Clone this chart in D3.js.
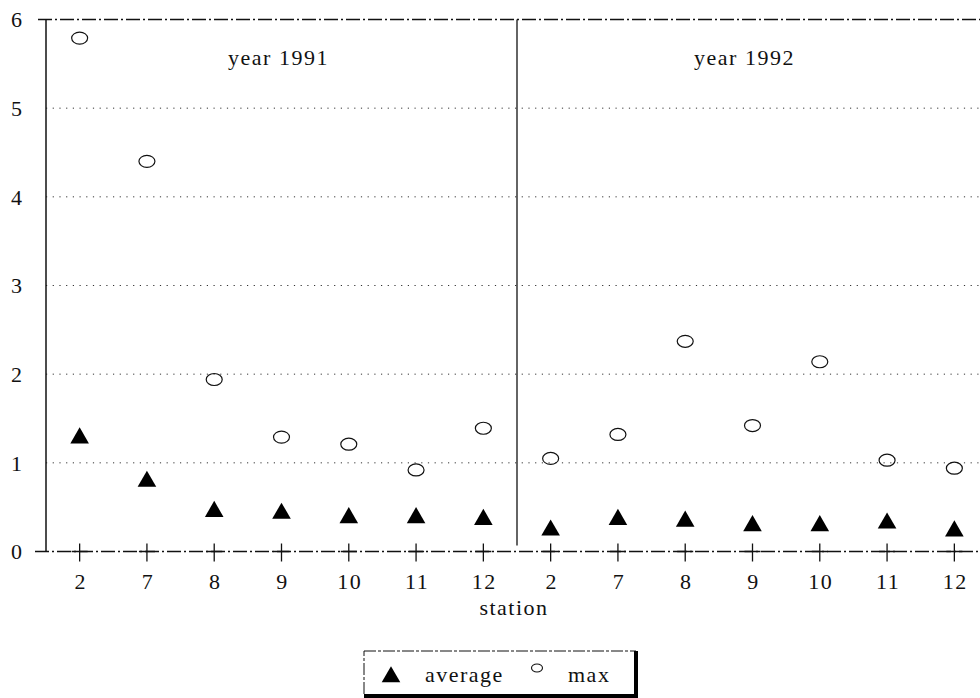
<!DOCTYPE html>
<html>
<head>
<meta charset="utf-8">
<script src="https://cdn.jsdelivr.net/npm/d3@7"></script>
<style>
  body { margin: 0; background: #fff; }
  svg { display: block; font-family: "Liberation Serif", "DejaVu Serif", serif; }
</style>
</head>
<body>
<div id="chart"></div>
<script>
const stations = ['2', '7', '8', '9', '10', '11', '12'];
const years = ['1991', '1992'];
const avg1991 = [1.28, 0.79, 0.45, 0.43, 0.38, 0.38, 0.36];
const max1991 = [5.79, 4.40, 1.94, 1.29, 1.21, 0.92, 1.39];
const avg1992 = [0.24, 0.36, 0.34, 0.29, 0.29, 0.32, 0.23];
const max1992 = [1.05, 1.32, 2.37, 1.42, 2.14, 1.03, 0.94];
const yTicks = [0, 1, 2, 3, 4, 5, 6];

const avgByYear = { 1991: avg1991, 1992: avg1992 };
const maxByYear = { 1991: max1991, 1992: max1992 };

const width = 980;
const height = 698;
const plotLeft = 46;
const panelW = 471;
const plotTop = 19.5;
const plotBottom = 551.5;
const fontSize = 22;
const spacing = '1.5px';

const svg = d3.select('#chart').append('svg')
    .attr('width', width)
    .attr('height', height);

const y = d3.scaleLinear().domain([0, 6]).range([plotBottom, plotTop]);

// dotted grid lines
svg.append('g')
    .selectAll('line')
    .data(yTicks.filter(d => d > 0 && d < 6))
    .join('line')
    .attr('x1', plotLeft)
    .attr('x2', width)
    .attr('y1', d => y(d))
    .attr('y2', d => y(d))
    .attr('stroke', '#333')
    .attr('stroke-width', 1)
    .attr('stroke-dasharray', '1.2,5.5');

// top and bottom frame lines (dash-dot, like the print)
[0, 6].forEach((v) => {
    svg.append('line')
        .attr('x1', v === 0 ? 35 : 38)
        .attr('x2', width)
        .attr('y1', y(v))
        .attr('y2', y(v))
        .attr('stroke', '#111')
        .attr('stroke-width', 1.3)
        .attr('stroke-dasharray', '14,3,2,3');
});

// left axis line
svg.append('line')
    .attr('x1', plotLeft).attr('x2', plotLeft)
    .attr('y1', y(6)).attr('y2', y(0))
    .attr('stroke', '#111')
    .attr('stroke-width', 1.5);

// y tick labels
svg.append('g')
    .selectAll('text')
    .data(yTicks)
    .join('text')
    .attr('x', 22)
    .attr('y', d => y(d))
    .attr('dy', '0.35em')
    .attr('text-anchor', 'end')
    .attr('font-size', fontSize)
    .attr('fill', '#111')
    .text(d => d);

// panel separator
svg.append('line')
    .attr('x1', plotLeft + panelW).attr('x2', plotLeft + panelW)
    .attr('y1', y(6)).attr('y2', y(0) - 6)
    .attr('stroke', '#111')
    .attr('stroke-width', 1.3);

const tri = d3.symbol().type(d3.symbolTriangle).size(150);

years.forEach((yr, i) => {
    const x0 = plotLeft + i * panelW;
    const x = d3.scalePoint(stations, [x0, x0 + panelW]).padding(0.5);
    const g = svg.append('g');

    g.append('text')
        .attr('x', x0 + panelW / 2 + (i === 0 ? -3 : -8))
        .attr('y', 65)
        .attr('text-anchor', 'middle')
        .attr('font-size', fontSize)
        .attr('letter-spacing', spacing)
        .attr('fill', '#111')
        .text(`year ${yr}`);

    // "+" ticks on the zero line
    g.selectAll('line.tick')
        .data(stations)
        .join('line')
        .attr('class', 'tick')
        .attr('x1', d => x(d)).attr('x2', d => x(d))
        .attr('y1', y(0) - 8).attr('y2', y(0) + 10)
        .attr('stroke', '#111')
        .attr('stroke-width', 1.3);

    g.selectAll('line.cross')
        .data(stations)
        .join('line')
        .attr('class', 'cross')
        .attr('x1', d => x(d) - 8).attr('x2', d => x(d) + 8)
        .attr('y1', y(0)).attr('y2', y(0))
        .attr('stroke', '#111')
        .attr('stroke-width', 1.5);

    g.selectAll('text.lab')
        .data(stations)
        .join('text')
        .attr('class', 'lab')
        .attr('x', d => x(d) + 1)
        .attr('y', 589)
        .attr('text-anchor', 'middle')
        .attr('font-size', fontSize)
        .attr('letter-spacing', spacing)
        .attr('fill', '#111')
        .text(d => d);

    g.selectAll('ellipse')
        .data(maxByYear[yr])
        .join('ellipse')
        .attr('cx', (d, j) => x(stations[j]))
        .attr('cy', d => y(d))
        .attr('rx', 8)
        .attr('ry', 6)
        .attr('fill', 'none')
        .attr('stroke', '#111')
        .attr('stroke-width', 1.2);

    g.selectAll('path')
        .data(avgByYear[yr])
        .join('path')
        .attr('d', tri)
        .attr('transform', (d, j) => `translate(${x(stations[j])},${y(d)})`)
        .attr('fill', '#000');
});

// x axis title
svg.append('text')
    .attr('x', 514)
    .attr('y', 615)
    .attr('text-anchor', 'middle')
    .attr('font-size', fontSize)
    .attr('letter-spacing', spacing)
    .attr('fill', '#111')
    .text('station');

// legend
const lg = svg.append('g').attr('transform', 'translate(364,651)');
lg.append('rect')
    .attr('x', 0).attr('y', 0)
    .attr('width', 272).attr('height', 44)
    .attr('fill', '#fff')
    .attr('stroke', '#111')
    .attr('stroke-width', 1)
    .attr('stroke-dasharray', '12,2,3,2');
lg.append('rect')
    .attr('x', 270).attr('y', 0)
    .attr('width', 4).attr('height', 47)
    .attr('fill', '#000');
lg.append('rect')
    .attr('x', 0).attr('y', 43)
    .attr('width', 274).attr('height', 4)
    .attr('fill', '#000');
lg.append('path')
    .attr('d', tri)
    .attr('transform', 'translate(27,26)')
    .attr('fill', '#000');
lg.append('text')
    .attr('x', 61).attr('y', 31)
    .attr('font-size', fontSize)
    .attr('letter-spacing', spacing)
    .attr('fill', '#111')
    .text('average');
lg.append('ellipse')
    .attr('cx', 173).attr('cy', 17)
    .attr('rx', 5.5).attr('ry', 4)
    .attr('fill', 'none')
    .attr('stroke', '#111')
    .attr('stroke-width', 1.1);
lg.append('text')
    .attr('x', 204).attr('y', 31)
    .attr('font-size', fontSize)
    .attr('letter-spacing', spacing)
    .attr('fill', '#111')
    .text('max');
</script>
</body>
</html>
